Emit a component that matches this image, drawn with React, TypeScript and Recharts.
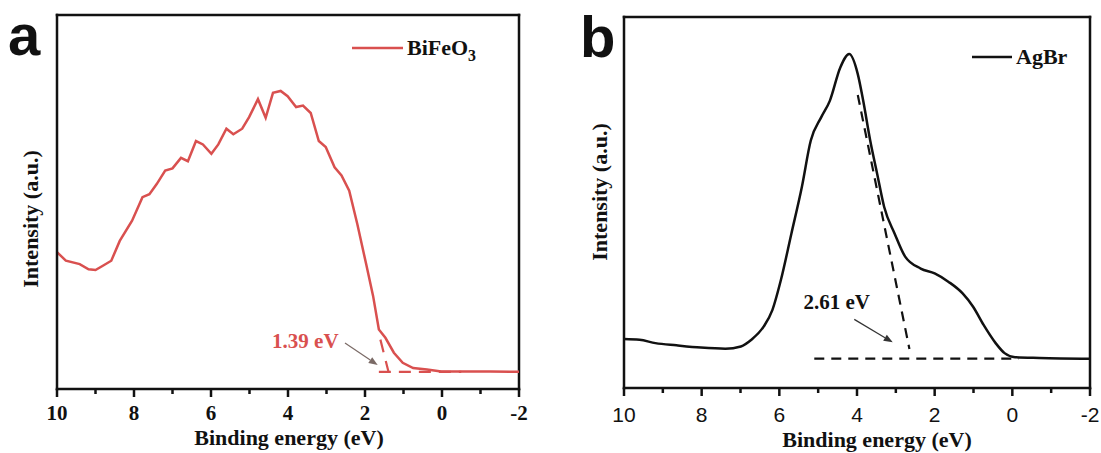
import { LineChart, Line, XAxis, YAxis, Legend, ReferenceLine, ReferenceDot } from 'recharts'

const SERIF = '"Liberation Serif", "Times New Roman", Times, serif'
const SANS = '"Liberation Sans", Arial, Helvetica, sans-serif'
const INK = '#111111'
const RED = '#d9504f'

const energyTicks = [10, 9, 8, 7, 6, 5, 4, 3, 2, 1, 0, -1, -2]

// panel a: BiFeO3 valence band spectrum
const bfoEnergy = [10, 9.77, 9.41, 9.18, 9.0, 8.82, 8.59, 8.37, 8.05, 7.78, 7.6, 7.41, 7.19, 7.0, 6.78, 6.6, 6.39, 6.21, 5.99, 5.81, 5.6, 5.42, 5.19, 5.01, 4.78, 4.58, 4.39, 4.19, 4.01, 3.79, 3.61, 3.41, 3.2, 3.02, 2.79, 2.61, 2.41, 2.2, 1.97, 1.79, 1.64, 1.47, 1.25, 1.02, 0.75, 0.39, 0.02, -0.52, -1.25, -2]
const bfoIntensity = [36.6, 34.3, 33.4, 32.0, 31.8, 32.9, 34.3, 39.6, 45.0, 51.3, 52.1, 54.8, 58.4, 59.0, 61.8, 60.9, 66.3, 65.4, 62.9, 65.4, 69.6, 68.1, 69.6, 72.7, 77.5, 72.5, 79.2, 79.7, 78.3, 75.4, 75.8, 73.8, 66.3, 64.7, 59.3, 57.1, 53.0, 44.1, 33.4, 24.9, 15.9, 13.7, 9.7, 7.0, 5.6, 5.2, 4.7, 4.7, 4.7, 4.6]
const bfoTangentEnergy = [1.6, 1.39]
const bfoTangentIntensity = [13.2, 4.6]
const bfoBaseEnergy = [1.64, -0.5]
const bfoBaseIntensity = [4.6, 4.6]

// panel b: AgBr valence band spectrum
const agbrEnergy = [10, 9.6, 9.19, 8.65, 8.02, 7.39, 6.99, 6.72, 6.4, 6.18, 5.96, 5.69, 5.42, 5.19, 4.92, 4.7, 4.43, 4.2, 3.98, 3.84, 3.66, 3.48, 3.3, 3.03, 2.76, 2.36, 2.0, 1.64, 1.28, 1.01, 0.74, 0.43, 0.2, -0.07, -0.7, -2]
const agbrIntensity = [13.2, 13.0, 12.1, 11.5, 10.9, 10.6, 11.2, 13.0, 16.6, 21.0, 29.1, 41.6, 54.2, 66.7, 73.0, 77.4, 86.4, 90.0, 84.6, 77.4, 66.7, 57.7, 48.8, 41.6, 35.4, 32.2, 30.9, 28.6, 25.5, 21.9, 17.0, 12.1, 9.4, 8.3, 8.1, 7.9]
const agbrTangentEnergy = [3.98, 2.65]
const agbrTangentIntensity = [79, 10.5]
const agbrBaseEnergy = [5.1, -0.16]
const agbrBaseIntensity = [7.9, 7.9]

// annotations: [energy, intensity]
const bfoArrow = [[2.52, 12.3], [1.67, 6.4]]
const agbrArrow = [[4.07, 18.5], [3.08, 12.3]]
const bfoGapLabel = { e: 3.55, i: 13, text: '1.39 eV' }
const agbrGapLabel = { e: 4.52, i: 23.2, text: '2.61 eV' }

const zip = (e: number[], i: number[]) => e.map((x, k) => ({ e: x, i: i[k] }))

const axisLine = { stroke: INK, strokeWidth: 2.5, strokeLinecap: 'square' as const }

function EnergyTick(props: any) {
  const { x, y, payload, family, bold, baseline } = props
  const v = payload.value
  const major = v % 2 === 0
  const axisY = y - 8
  return (
    <g>
      <line x1={x} x2={x} y1={axisY} y2={axisY + (major ? 8 : 5)} stroke={INK} strokeWidth={2.5} />
      {major && (
        <text x={x} y={axisY + baseline} textAnchor="middle" fill={INK} style={{ fontFamily: family, fontWeight: bold ? 700 : 400, fontSize: 21 }}>
          {v}
        </text>
      )}
    </g>
  )
}

function ArrowShape(props: any) {
  const { x1, y1, x2, y2, stroke } = props
  const ang = Math.atan2(y2 - y1, x2 - x1)
  const len = 9
  const half = 3.5
  const bx = x2 - len * Math.cos(ang)
  const by = y2 - len * Math.sin(ang)
  const px = -Math.sin(ang) * half
  const py = Math.cos(ang) * half
  return (
    <g>
      <line x1={x1} y1={y1} x2={bx} y2={by} stroke={stroke} strokeWidth={1.2} />
      <polygon points={`${x2},${y2} ${bx + px},${by + py} ${bx - px},${by - py}`} fill={stroke} />
    </g>
  )
}

function withSub(name: string) {
  return name.split(/(\d+)/).map((s, k) =>
    k % 2 ? <sub key={k} style={{ fontSize: '0.72em', lineHeight: 0, verticalAlign: '-0.35em' }}>{s}</sub> : s
  )
}

function SeriesKey({ payload, lineWidth }: any) {
  const item = (payload || [])[0]
  if (!item) return null
  return (
    <div style={{ display: 'flex', alignItems: 'center', height: 24, fontFamily: SERIF, fontWeight: 700, fontSize: 22, color: INK }}>
      <svg width={lineWidth} height={4} style={{ display: 'block' }}>
        <line x1={0} x2={lineWidth} y1={2} y2={2} stroke={item.color} strokeWidth={2.5} />
      </svg>
      <span style={{ marginLeft: 4, lineHeight: '24px' }}>{withSub(String(item.value))}</span>
    </div>
  )
}

function axisTitle(x: number, y: number, text: string) {
  return () => (
    <text x={x} y={y} textAnchor="middle" fill={INK} style={{ fontFamily: SERIF, fontWeight: 700, fontSize: 22 }}>
      {text}
    </text>
  )
}

function yTitle(x: number, y: number, text: string) {
  return () => (
    <text x={x} y={y} dy="0.35em" transform={`rotate(-90 ${x} ${y})`} textAnchor="middle" fill={INK} style={{ fontFamily: SERIF, fontWeight: 700, fontSize: 22 }}>
      {text}
    </text>
  )
}

function PanelA() {
  return (
    <LineChart width={550} height={453} margin={{ top: 15, right: 31, left: 43, bottom: 0 }}>
      <XAxis
        type="number" dataKey="e" domain={[-2, 10]} reversed ticks={energyTicks} interval={0}
        tickSize={8} tickMargin={0} tickLine={false} axisLine={axisLine} height={64}
        tick={(p: any) => <EnergyTick {...p} family={SERIF} bold baseline={31} />}
        label={axisTitle(289, 445, 'Binding energy (eV)')}
      />
      <YAxis type="number" domain={[0, 100]} tick={false} tickLine={false} axisLine={axisLine} width={14} label={yTitle(30, 219, 'Intensity (a.u.)')} />
      {/* closing the frame on top and right */}
      <ReferenceLine y={100} stroke={INK} strokeWidth={2.5} strokeLinecap="square" />
      <ReferenceLine x={-2} stroke={INK} strokeWidth={2.5} strokeLinecap="square" />
      <Legend
        layout="horizontal" verticalAlign="middle" align="center"
        wrapperStyle={{ left: 352, top: 36, width: 190, height: 24 }}
        content={(p: any) => <SeriesKey payload={p.payload} lineWidth={51} />}
      />
      <Line data={zip(bfoEnergy, bfoIntensity)} dataKey="i" name="BiFeO3" type="linear" stroke={RED} strokeWidth={2.5} dot={false} isAnimationActive={false} />
      <Line data={zip(bfoBaseEnergy, bfoBaseIntensity)} dataKey="i" legendType="none" type="linear" stroke={RED} strokeWidth={2.2} strokeDasharray="12 8" dot={false} isAnimationActive={false} />
      <Line data={zip(bfoTangentEnergy, bfoTangentIntensity)} dataKey="i" legendType="none" type="linear" stroke={RED} strokeWidth={2.2} strokeDasharray="13 9" dot={false} isAnimationActive={false} />
      <ReferenceLine segment={bfoArrow.map(([x, y]) => ({ x, y }))} stroke="#7a6a66" shape={ArrowShape} />
      <ReferenceDot x={bfoGapLabel.e} y={bfoGapLabel.i} r={0} fill="none" stroke="none"
        label={{ value: bfoGapLabel.text, position: 'center', fill: RED, fontSize: 21, fontWeight: 700, fontFamily: SERIF }} />
    </LineChart>
  )
}

function PanelB() {
  return (
    <LineChart width={551} height={453} margin={{ top: 17, right: 11, left: 60, bottom: 0 }}>
      <XAxis
        type="number" dataKey="e" domain={[-2, 10]} reversed ticks={energyTicks} interval={0}
        tickSize={8} tickMargin={0} tickLine={false} axisLine={axisLine} height={65}
        tick={(p: any) => <EnergyTick {...p} family={SANS} baseline={34} />}
        label={axisTitle(327, 447, 'Binding energy (eV)')}
      />
      <YAxis type="number" domain={[0, 100]} tick={false} tickLine={false} axisLine={axisLine} width={14} label={yTitle(49, 192, 'Intensity (a.u.)')} />
      <ReferenceLine y={100} stroke={INK} strokeWidth={2.5} strokeLinecap="square" />
      <ReferenceLine x={-2} stroke={INK} strokeWidth={2.5} strokeLinecap="square" />
      <Legend
        layout="horizontal" verticalAlign="middle" align="center"
        wrapperStyle={{ left: 422, top: 45, width: 120, height: 24 }}
        content={(p: any) => <SeriesKey payload={p.payload} lineWidth={40} />}
      />
      <Line data={zip(agbrEnergy, agbrIntensity)} dataKey="i" name="AgBr" type="monotone" stroke={INK} strokeWidth={2.5} dot={false} isAnimationActive={false} />
      <Line data={zip(agbrBaseEnergy, agbrBaseIntensity)} dataKey="i" legendType="none" type="linear" stroke={INK} strokeWidth={2.2} strokeDasharray="10 7" dot={false} isAnimationActive={false} />
      <Line data={zip(agbrTangentEnergy, agbrTangentIntensity)} dataKey="i" legendType="none" type="linear" stroke={INK} strokeWidth={2.2} strokeDasharray="10 7" dot={false} isAnimationActive={false} />
      <ReferenceLine segment={agbrArrow.map(([x, y]) => ({ x, y }))} stroke="#333333" shape={ArrowShape} />
      <ReferenceDot x={agbrGapLabel.e} y={agbrGapLabel.i} r={0} fill="none" stroke="none"
        label={{ value: agbrGapLabel.text, position: 'center', fill: INK, fontSize: 21, fontWeight: 700, fontFamily: SERIF }} />
    </LineChart>
  )
}

export default function App() {
  return (
    <div style={{ position: 'absolute', left: 0, top: 0, width: 1101, height: 453, background: '#fff', overflow: 'hidden' }}>
      <div style={{ position: 'absolute', left: 0, top: 0 }}>
        <PanelA />
      </div>
      <div style={{ position: 'absolute', left: 550, top: 0 }}>
        <PanelB />
      </div>
      <svg width={1101} height={453} style={{ position: 'absolute', left: 0, top: 0, pointerEvents: 'none' }}>
        <text x={8} y={55} fontFamily={SANS} fontWeight={700} fontSize={58} fill={INK}>a</text>
        <text x={580} y={57} fontFamily={SANS} fontWeight={700} fontSize={58} fill={INK}>b</text>
      </svg>
    </div>
  )
}
